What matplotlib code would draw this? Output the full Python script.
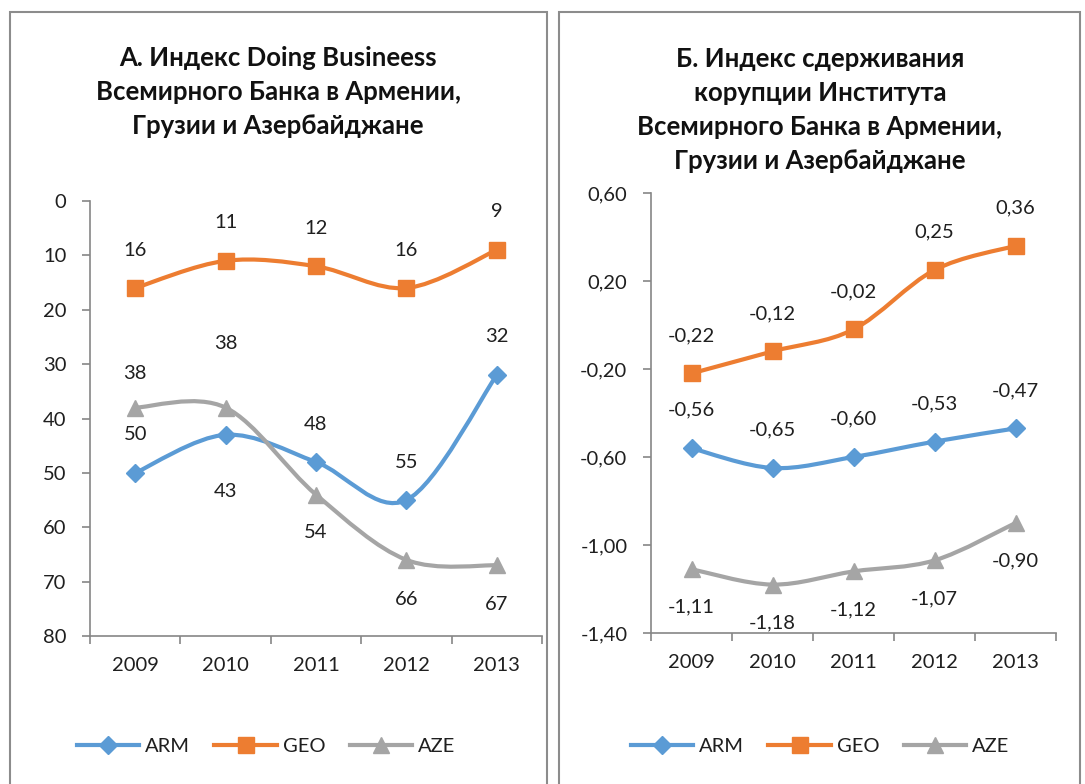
import matplotlib
matplotlib.use("Agg")
import matplotlib.pyplot as plt
import numpy as np
from matplotlib.path import Path
from matplotlib.patches import PathPatch, Rectangle
from matplotlib.lines import Line2D

plt.rcParams["font.family"] = ["Lato", "DejaVu Sans"]

YEARS = ["2009", "2010", "2011", "2012", "2013"]
SERIES = ["ARM", "GEO", "AZE"]

# Panel A: Doing Business rank
DB_ARM = [50, 43, 48, 55, 32]
DB_GEO = [16, 11, 12, 16, 9]
DB_AZE = [38, 38, 54, 66, 67]

# Panel B: control of corruption
CC_ARM = [-0.56, -0.65, -0.60, -0.53, -0.47]
CC_GEO = [-0.22, -0.12, -0.02, 0.25, 0.36]
CC_AZE = [-1.11, -1.18, -1.12, -1.07, -0.90]

TITLE_A = "А. Индекс Doing Busineess\nВсемирного Банка в Армении,\nГрузии и Азербайджане"
TITLE_B = ("Б. Индекс сдерживания\nкорупции Института\n"
           "Всемирного Банка в Армении,\nГрузии и Азербайджане")

COLORS = {"ARM": "#5B9BD5", "GEO": "#ED7D31", "AZE": "#A5A5A5"}
MARKERS = {"ARM": ("D", 9), "GEO": ("s", 12), "AZE": ("^", 12)}
AXIS_GRAY = "#868686"
TEXT = "#1f1f1f"
FS = 14.5

# label offsets in pixels (+ up)
OFF_A = {
    "ARM": [38, -57, 38, 38, 38],
    "GEO": [38, 38, 38, 38, 38],
    "AZE": [34, 64, -38, -40, -39],
}
OFF_B = {
    "ARM": [38, 38, 38, 38, 38],
    "GEO": [38, 38, 38, 38, 38],
    "AZE": [-38, -38, -38, -38, -38],
}

W, H = 1085, 784


def fx(px):
    return px / W


def fy(py):
    return 1 - py / H


def smooth_curve(ax, xs, ys, color, k=1 / 6):
    pts = np.column_stack([xs, ys]).astype(float)
    n = len(pts)
    verts = [pts[0]]
    codes = [Path.MOVETO]
    for i in range(n - 1):
        p0 = pts[i - 1] if i > 0 else pts[i]
        p3 = pts[i + 2] if i + 2 < n else pts[i + 1]
        c1 = pts[i] + (pts[i + 1] - p0) * k
        c2 = pts[i + 1] - (p3 - pts[i]) * k
        verts += [c1, c2, pts[i + 1]]
        codes += [Path.CURVE4] * 3
    patch = PathPatch(Path(verts, codes), fill=False, edgecolor=color, lw=3.0,
                      capstyle="round", joinstyle="round", zorder=2)
    ax.add_patch(patch)


def draw_panel(ax, data, offsets, fmt):
    x = np.arange(len(YEARS))
    for name, vals in zip(SERIES, data):
        smooth_curve(ax, x, vals, COLORS[name])
        m, ms = MARKERS[name]
        ax.plot(x, vals, linestyle="none", marker=m, ms=ms, color=COLORS[name], zorder=3)
        for xi, v, dy in zip(x, vals, offsets[name]):
            ax.annotate(fmt(v), (xi, v), xytext=(0, dy), textcoords="offset pixels",
                        ha="center", va="center", fontsize=FS, color=TEXT)
    ax.set_xlim(-0.5, len(YEARS) - 0.5)
    ax.set_xticks(x)
    ax.set_xticklabels(YEARS, fontsize=FS, color=TEXT)
    ax.set_xticks(np.arange(len(YEARS) + 1) - 0.5, minor=True)
    ax.tick_params(axis="x", which="major", length=0, pad=15)
    ax.tick_params(axis="x", which="minor", length=6, color=AXIS_GRAY, width=1.2)
    ax.tick_params(axis="y", length=6, color=AXIS_GRAY, width=1.2, pad=11,
                   labelsize=FS, labelcolor=TEXT)
    for side in ["top", "right"]:
        ax.spines[side].set_visible(False)
    for side in ["left", "bottom"]:
        ax.spines[side].set_color(AXIS_GRAY)
        ax.spines[side].set_linewidth(1.2)


fig = plt.figure(figsize=(W / 100, H / 100), dpi=100)

# panel frames
fig.add_artist(Rectangle((fx(10), fy(800)), fx(537), fy(12) - fy(800),
                         transform=fig.transFigure, fill=False, ec="#8c8c8c", lw=1.5))
fig.add_artist(Rectangle((fx(559), fy(800)), fx(521), fy(12) - fy(800),
                         transform=fig.transFigure, fill=False, ec="#8c8c8c", lw=1.5))

ax1 = fig.add_axes([fx(90), fy(636), fx(542 - 90), fy(201) - fy(636)])
draw_panel(ax1, [DB_ARM, DB_GEO, DB_AZE], OFF_A, lambda v: f"{v}")
ax1.set_ylim(80, 0)
ax1.set_yticks(range(0, 81, 10))

ax2 = fig.add_axes([fx(651), fy(633), fx(1056 - 651), fy(193) - fy(633)])
draw_panel(ax2, [CC_ARM, CC_GEO, CC_AZE], OFF_B,
           lambda v: f"{v:.2f}".replace(".", ","))
ax2.set_ylim(-1.40, 0.60)
yt = [0.60, 0.20, -0.20, -0.60, -1.00, -1.40]
ax2.set_yticks(yt)
ax2.set_yticklabels([f"{v:.2f}".replace(".", ",") for v in yt])

fig.text(fx(278), fy(92.5), TITLE_A, ha="center", va="center", fontsize=18.5,
         fontweight="bold", color="#111111", linespacing=1.5)
fig.text(fx(820), fy(110), TITLE_B, ha="center", va="center", fontsize=18.5,
         fontweight="bold", color="#111111", linespacing=1.5)

handles = [Line2D([], [], color=COLORS[s], lw=3.0, marker=MARKERS[s][0],
                  ms=MARKERS[s][1]) for s in SERIES]
for cx in [266, 820]:
    fig.legend(handles, SERIES, loc="center", bbox_to_anchor=(fx(cx), fy(746)),
               ncol=3, frameon=False, fontsize=FS, handlelength=3.1,
               handletextpad=0.3, columnspacing=1.2, labelcolor=TEXT)

fig.savefig("out.png", dpi=100)
